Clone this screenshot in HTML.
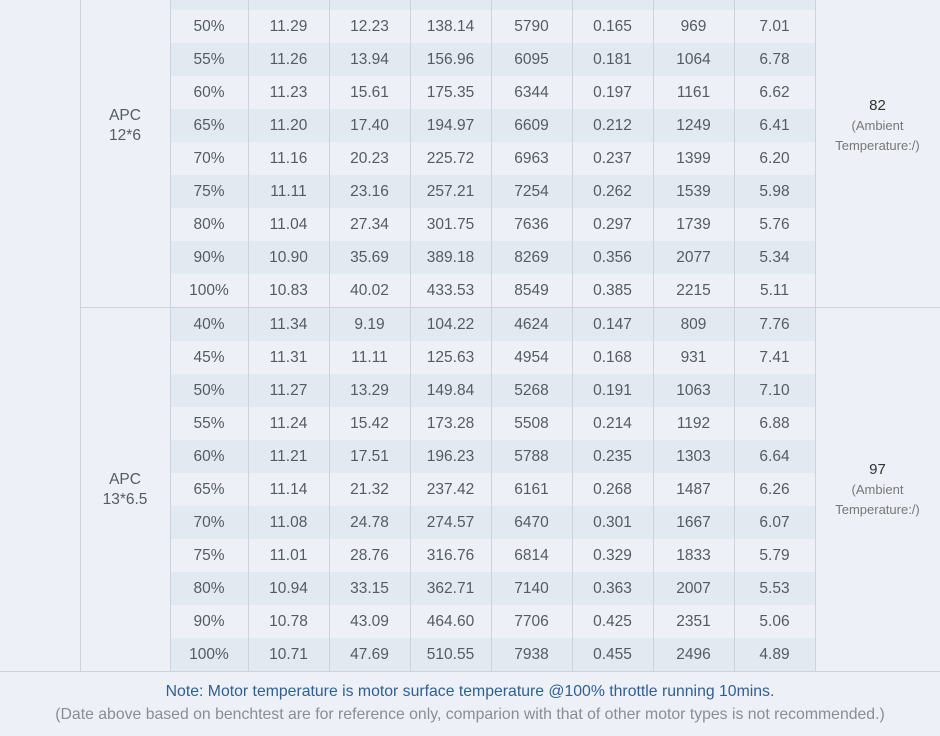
<!DOCTYPE html>
<html><head><meta charset="utf-8"><style>
html,body{margin:0;padding:0;width:940px;height:736px;overflow:hidden;background:#edf1f7;font-family:"Liberation Sans","DejaVu Sans",sans-serif;}
table{position:absolute;left:0;top:-56px;border-collapse:collapse;table-layout:fixed;width:940px;font-size:15.5px;color:#555b63;}
td{height:33px;padding:0;text-align:center;vertical-align:middle;border-left:1px solid #cdd3dc;border-right:1px solid #cdd3dc;line-height:20px;}
td.b{border:none;border-right:1px solid #cdd3dc;border-bottom:1px solid #cdd3dc;}
tr.s td.d{background:#e3e9f1;}
tr.g td{border-bottom:1px solid #cdd3dc;}
td.t{font-size:15px;color:#333;line-height:20px;}
td.t span{font-size:13px;color:#777;}
.note{position:absolute;left:0;width:940px;text-align:center;font-size:15.8px;}
</style></head><body>
<table>
<colgroup><col style="width:80px"><col style="width:90px"><col style="width:78px"><col style="width:81px"><col style="width:81px"><col style="width:81px"><col style="width:81px"><col style="width:81px"><col style="width:81px"><col style="width:81px"><col style="width:125px"></colgroup>
<tr><td class="b" rowspan="22"></td><td rowspan="11" style="border-bottom:1px solid #cdd3dc">APC<br>12*6</td><td class="d">40%</td><td class="d">11.34</td><td class="d">8.90</td><td class="d">100.93</td><td class="d">5112</td><td class="d">0.130</td><td class="d">780</td><td class="d">7.73</td><td class="t" rowspan="11" style="border-bottom:1px solid #cdd3dc">82<br><span>(Ambient<br>Temperature:/)</span></td></tr>
<tr class="s"><td class="d">45%</td><td class="d">11.31</td><td class="d">10.50</td><td class="d">118.76</td><td class="d">5460</td><td class="d">0.148</td><td class="d">870</td><td class="d">7.33</td></tr>
<tr><td class="d">50%</td><td class="d">11.29</td><td class="d">12.23</td><td class="d">138.14</td><td class="d">5790</td><td class="d">0.165</td><td class="d">969</td><td class="d">7.01</td></tr>
<tr class="s"><td class="d">55%</td><td class="d">11.26</td><td class="d">13.94</td><td class="d">156.96</td><td class="d">6095</td><td class="d">0.181</td><td class="d">1064</td><td class="d">6.78</td></tr>
<tr><td class="d">60%</td><td class="d">11.23</td><td class="d">15.61</td><td class="d">175.35</td><td class="d">6344</td><td class="d">0.197</td><td class="d">1161</td><td class="d">6.62</td></tr>
<tr class="s"><td class="d">65%</td><td class="d">11.20</td><td class="d">17.40</td><td class="d">194.97</td><td class="d">6609</td><td class="d">0.212</td><td class="d">1249</td><td class="d">6.41</td></tr>
<tr><td class="d">70%</td><td class="d">11.16</td><td class="d">20.23</td><td class="d">225.72</td><td class="d">6963</td><td class="d">0.237</td><td class="d">1399</td><td class="d">6.20</td></tr>
<tr class="s"><td class="d">75%</td><td class="d">11.11</td><td class="d">23.16</td><td class="d">257.21</td><td class="d">7254</td><td class="d">0.262</td><td class="d">1539</td><td class="d">5.98</td></tr>
<tr><td class="d">80%</td><td class="d">11.04</td><td class="d">27.34</td><td class="d">301.75</td><td class="d">7636</td><td class="d">0.297</td><td class="d">1739</td><td class="d">5.76</td></tr>
<tr class="s"><td class="d">90%</td><td class="d">10.90</td><td class="d">35.69</td><td class="d">389.18</td><td class="d">8269</td><td class="d">0.356</td><td class="d">2077</td><td class="d">5.34</td></tr>
<tr class="g"><td class="d">100%</td><td class="d">10.83</td><td class="d">40.02</td><td class="d">433.53</td><td class="d">8549</td><td class="d">0.385</td><td class="d">2215</td><td class="d">5.11</td></tr>
<tr class="s"><td rowspan="11" style="border-bottom:1px solid #cdd3dc;background:#edf1f7">APC<br>13*6.5</td><td class="d">40%</td><td class="d">11.34</td><td class="d">9.19</td><td class="d">104.22</td><td class="d">4624</td><td class="d">0.147</td><td class="d">809</td><td class="d">7.76</td><td class="t" rowspan="11" style="border-bottom:1px solid #cdd3dc;background:#edf1f7">97<br><span>(Ambient<br>Temperature:/)</span></td></tr>
<tr><td class="d">45%</td><td class="d">11.31</td><td class="d">11.11</td><td class="d">125.63</td><td class="d">4954</td><td class="d">0.168</td><td class="d">931</td><td class="d">7.41</td></tr>
<tr class="s"><td class="d">50%</td><td class="d">11.27</td><td class="d">13.29</td><td class="d">149.84</td><td class="d">5268</td><td class="d">0.191</td><td class="d">1063</td><td class="d">7.10</td></tr>
<tr><td class="d">55%</td><td class="d">11.24</td><td class="d">15.42</td><td class="d">173.28</td><td class="d">5508</td><td class="d">0.214</td><td class="d">1192</td><td class="d">6.88</td></tr>
<tr class="s"><td class="d">60%</td><td class="d">11.21</td><td class="d">17.51</td><td class="d">196.23</td><td class="d">5788</td><td class="d">0.235</td><td class="d">1303</td><td class="d">6.64</td></tr>
<tr><td class="d">65%</td><td class="d">11.14</td><td class="d">21.32</td><td class="d">237.42</td><td class="d">6161</td><td class="d">0.268</td><td class="d">1487</td><td class="d">6.26</td></tr>
<tr class="s"><td class="d">70%</td><td class="d">11.08</td><td class="d">24.78</td><td class="d">274.57</td><td class="d">6470</td><td class="d">0.301</td><td class="d">1667</td><td class="d">6.07</td></tr>
<tr><td class="d">75%</td><td class="d">11.01</td><td class="d">28.76</td><td class="d">316.76</td><td class="d">6814</td><td class="d">0.329</td><td class="d">1833</td><td class="d">5.79</td></tr>
<tr class="s"><td class="d">80%</td><td class="d">10.94</td><td class="d">33.15</td><td class="d">362.71</td><td class="d">7140</td><td class="d">0.363</td><td class="d">2007</td><td class="d">5.53</td></tr>
<tr><td class="d">90%</td><td class="d">10.78</td><td class="d">43.09</td><td class="d">464.60</td><td class="d">7706</td><td class="d">0.425</td><td class="d">2351</td><td class="d">5.06</td></tr>
<tr class="s g"><td class="d">100%</td><td class="d">10.71</td><td class="d">47.69</td><td class="d">510.55</td><td class="d">7938</td><td class="d">0.455</td><td class="d">2496</td><td class="d">4.89</td></tr>
</table>
<div class="note" style="top:683px;color:#2d5f94;">Note: Motor temperature is motor surface temperature @100% throttle running 10mins.</div>
<div class="note" style="top:706px;color:#8a8d92;">(Date above based on benchtest are for reference only, comparion with that of other motor types is not recommended.)</div>
</body></html>
